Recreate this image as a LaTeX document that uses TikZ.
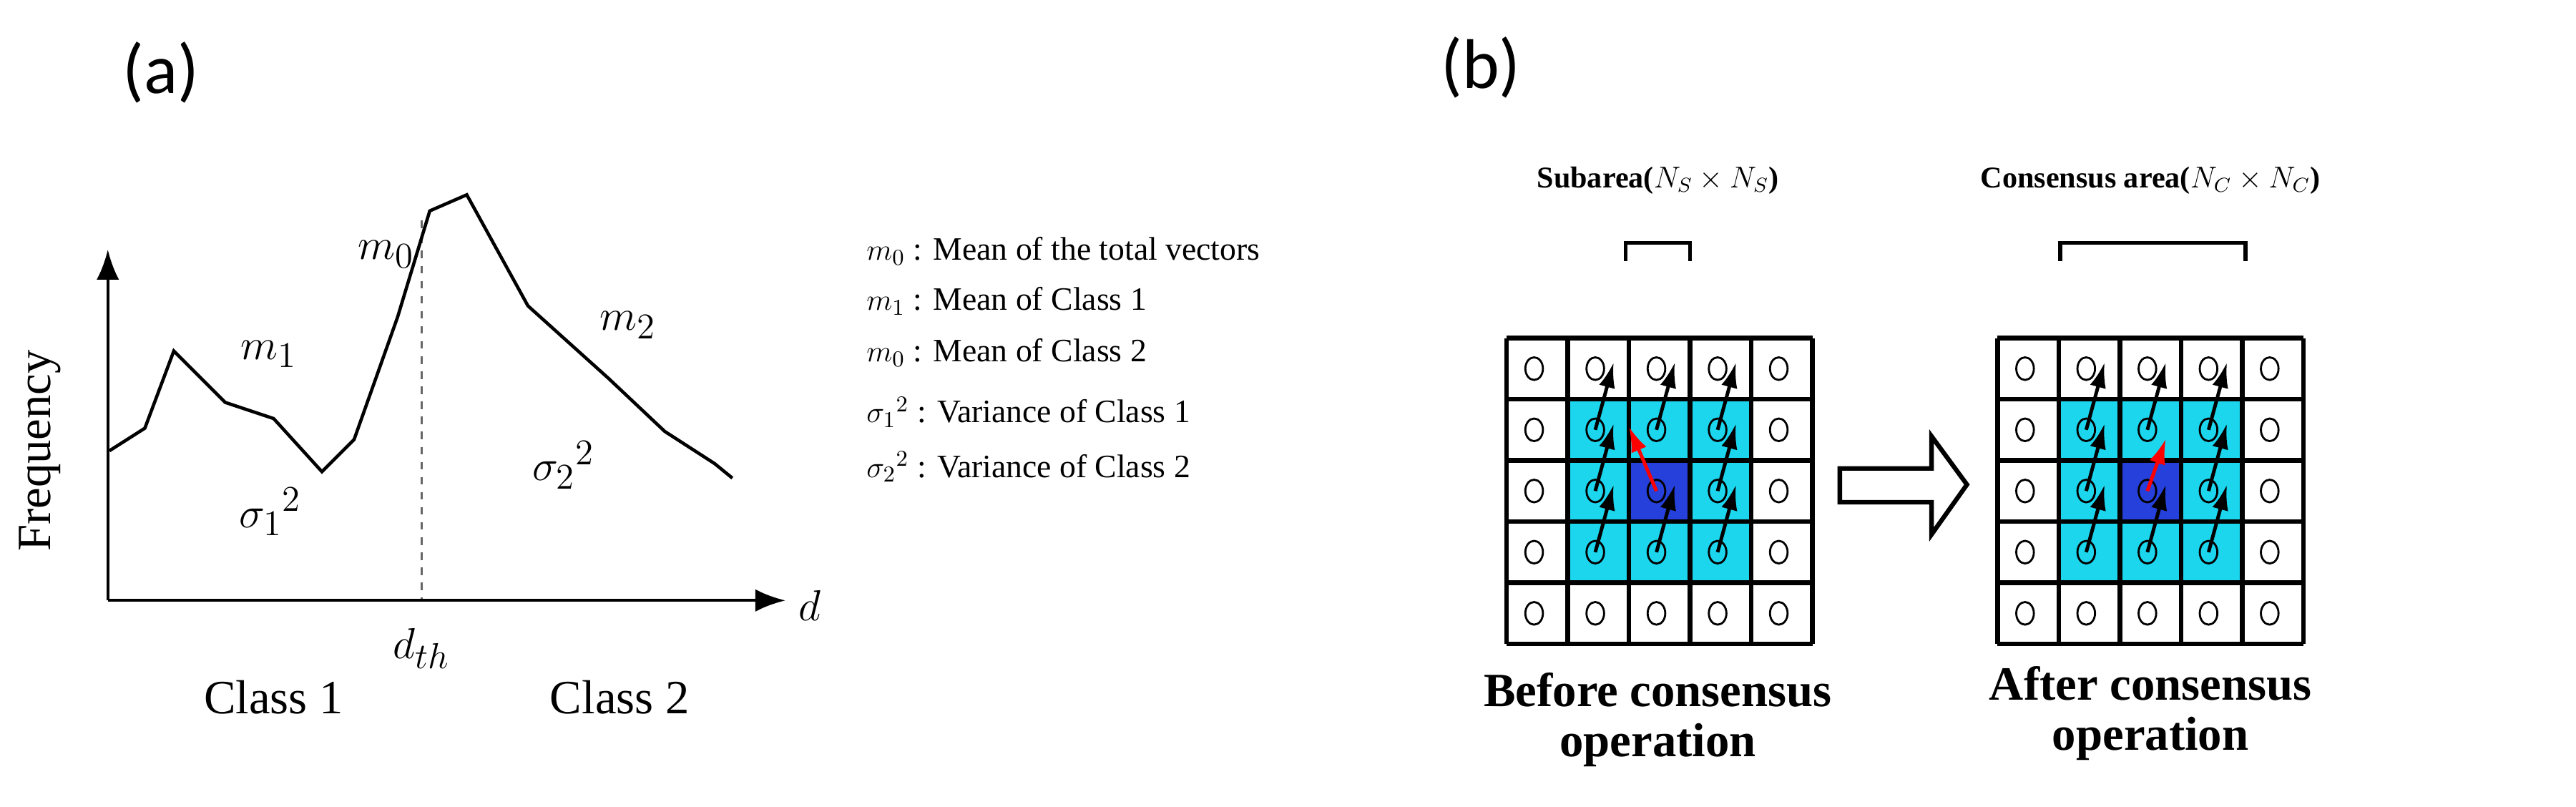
\documentclass[tikz,border=0pt]{standalone}
\usepackage{fontspec}
\setmainfont{Liberation Serif}
\newfontfamily\lblfont{Carlito}
\usetikzlibrary{arrows.meta,shapes.geometric}
\definecolor{cyanc}{HTML}{1CD6EE}
\definecolor{bluec}{HTML}{2540DB}
\tikzset{
  gline/.style={line width=1.8pt},
  vec/.style={line width=1.4pt,-{Latex[length=10pt,width=6.5pt]}},
  dot/.style={draw,line width=0.8pt,ellipse,minimum width=7pt,minimum height=9pt,inner sep=0pt},
}
\begin{document}
\begin{tikzpicture}[x=0.0225cm,y=-0.0225cm]
\useasboundingbox (0,0) rectangle (1600.4,501.3);
% ---------- (a)
\node[font=\lblfont\fontsize{28}{30}\selectfont] (la) at (100,45) {(a)};
\coordinate (o) at (67,373);
\coordinate (yt) at (67,155);
\coordinate (xt) at (488,373);
\draw[line width=1.2pt,-{Latex[length=12pt,width=9pt]}] (o) -- (yt);
\draw[line width=1.2pt,-{Latex[length=12pt,width=9pt]}] (o) -- (xt);
\coordinate (dt) at (262,137); \coordinate (db) at (262,372);
\draw[dashed,line width=0.9pt,gray!80!black] (dt) -- (db);
\draw[line width=1.3pt] (68,280)--(90,266)--(108,218)--(140,250)--(170,260)--(200,293)--(220,273)--(247,197)--(267,131)--(290,121)--(328,190)--(378,235)--(413,268)--(444,288)--(455,297);
\node[font=\fontsize{19}{20}\selectfont,rotate=90] (fr) at (25,280) {Frequency};
\node[font=\fontsize{19}{20}\selectfont] (nd) at (503,376) {$d$};
\node[font=\fontsize{19}{20}\selectfont] (ndth) at (262,403) {$d_{th}$};
\node[font=\fontsize{19}{20}\selectfont] (c1) at (170,433) {Class 1};
\node[font=\fontsize{19}{20}\selectfont] (c2) at (385,433) {Class 2};
\node[font=\fontsize{19}{20}\selectfont] (m0) at (240,158) {$m_0$};
\node[font=\fontsize{19}{20}\selectfont] (m1) at (167,220) {$m_1$};
\node[font=\fontsize{19}{20}\selectfont] (m2) at (390,202) {$m_2$};
\node[font=\fontsize{19}{20}\selectfont] (s1) at (168,318) {$\sigma_1{}^2$};
\node[font=\fontsize{19}{20}\selectfont] (s2) at (350,289) {$\sigma_2{}^2$};
% legend
\begin{scope}[every node/.style={anchor=west,font=\fontsize{13}{14}\selectfont,inner sep=0pt}]
\node (l1) at (538,156) {$m_0$ : Mean of the total vectors};
\node (l2) at (538,187) {$m_1$ : Mean of Class 1};
\node (l3) at (538,219) {$m_0$ : Mean of Class 2};
\node (l4) at (538,256) {$\sigma_1{}^2$ : Variance of Class 1};
\node (l5) at (538,290) {$\sigma_2{}^2$ : Variance of Class 2};
\end{scope}
% ---------- (b)
\node[font=\lblfont\fontsize{28}{30}\selectfont] (lb) at (920,42) {(b)};
\def\cs{38}
\foreach \gx in {936,1241}{
  \fill[cyanc] (\gx+\cs,210+\cs) rectangle (\gx+4*\cs,210+4*\cs);
  \fill[bluec] (\gx+2*\cs,210+2*\cs) rectangle (\gx+3*\cs,210+3*\cs);
  \foreach \i in {0,...,5}{
    \draw[gline] (\gx+\i*\cs,210) -- (\gx+\i*\cs,210+5*\cs);
    \draw[gline] (\gx,210+\i*\cs) -- (\gx+5*\cs,210+\i*\cs);
  }
  \foreach \r in {0,...,4}\foreach \c in {0,...,4}{
    \node[dot] at (\gx+\c*\cs+0.45*\cs,210+\r*\cs+0.5*\cs) {};
  }
  \foreach \r/\c in {1/1,1/2,1/3,2/1,2/3,3/1,3/2,3/3}{
    \draw[vec] (\gx+\c*\cs+0.45*\cs,210+\r*\cs+0.5*\cs) -- ++(0.3*\cs,-1.1*\cs);
  }
}
\draw[vec,red] (936+2.45*\cs,210+2.5*\cs) -- ++(-0.45*\cs,-1.05*\cs);
\draw[vec,red] (1241+2.45*\cs,210+2.5*\cs) -- ++(0.3*\cs,-0.85*\cs);
% hollow arrow
\draw[line width=1.8pt,fill=white] (1143,291) -- (1200,291) -- (1200,271) -- (1222,301) -- (1200,332) -- (1200,312) -- (1143,312) -- cycle;
% brackets and titles
\draw[line width=1.5pt] (1010,162) -- (1010,151) -- (1050,151) -- (1050,162);
\draw[line width=1.5pt] (1280,162) -- (1280,151) -- (1395,151) -- (1395,162);
\node[font=\bfseries\fontsize{12}{14}\selectfont] (sub) at (1030,112) {Subarea($N_S\times N_S$)};
\node[font=\bfseries\fontsize{12}{14}\selectfont] (con) at (1336,112) {Consensus area($N_C\times N_C$)};
\node[font=\bfseries\fontsize{19}{20}\selectfont,align=center] (bc) at (1030,447) {Before consensus\\operation};
\node[font=\bfseries\fontsize{19}{20}\selectfont,align=center] (ac) at (1336,443) {After consensus\\operation};
\end{tikzpicture}
\end{document}
